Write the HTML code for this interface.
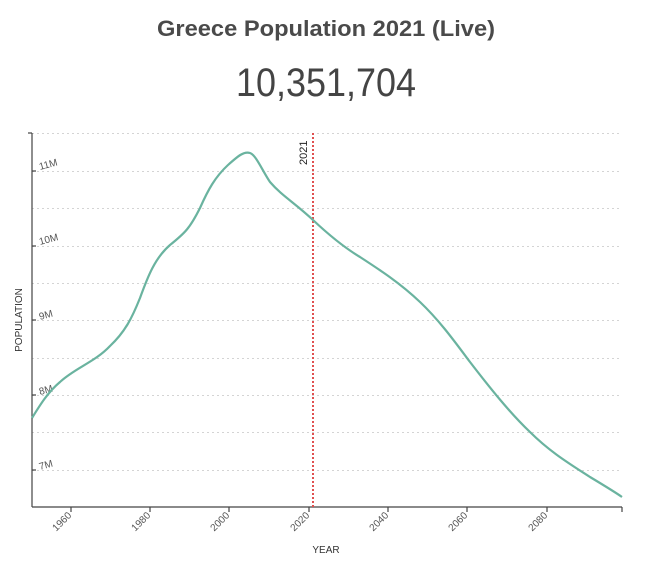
<!DOCTYPE html>
<html><head><meta charset="utf-8"><style>
body{margin:0;background:#fff;width:655px;height:568px;overflow:hidden;font-family:"Liberation Sans",sans-serif}
</style></head><body>
<svg width="655" height="568" xmlns="http://www.w3.org/2000/svg" font-family="Liberation Sans, sans-serif">
<text x="326" y="36" text-anchor="middle" font-size="22" font-weight="bold" fill="#4a4a4a" textLength="338" lengthAdjust="spacingAndGlyphs">Greece Population 2021 (Live)</text>
<text x="326" y="96" text-anchor="middle" font-size="40" fill="#444" textLength="180" lengthAdjust="spacingAndGlyphs">10,351,704</text>
<g stroke="#d4d4d4" stroke-dasharray="2,3" stroke-width="1">
<line x1="32" x2="622" y1="133.5" y2="133.5"/>
<line x1="32" x2="622" y1="171.5" y2="171.5"/>
<line x1="32" x2="622" y1="208.5" y2="208.5"/>
<line x1="32" x2="622" y1="246.5" y2="246.5"/>
<line x1="32" x2="622" y1="283.5" y2="283.5"/>
<line x1="32" x2="622" y1="320.5" y2="320.5"/>
<line x1="32" x2="622" y1="358.5" y2="358.5"/>
<line x1="32" x2="622" y1="395.5" y2="395.5"/>
<line x1="32" x2="622" y1="432.5" y2="432.5"/>
<line x1="32" x2="622" y1="470.5" y2="470.5"/>
</g>
<g stroke="#444" stroke-width="1.2" fill="none">
<line x1="32" y1="133" x2="32" y2="507"/>
<line x1="32" y1="507" x2="622" y2="507"/>
<line x1="28" y1="133" x2="32" y2="133"/>
<line x1="32" y1="171" x2="36" y2="171"/><line x1="32" y1="246" x2="36" y2="246"/><line x1="32" y1="320" x2="36" y2="320"/><line x1="32" y1="395" x2="36" y2="395"/><line x1="32" y1="470" x2="36" y2="470"/>
<line x1="71" y1="507" x2="71" y2="512"/><line x1="150" y1="507" x2="150" y2="512"/><line x1="229" y1="507" x2="229" y2="512"/><line x1="309" y1="507" x2="309" y2="512"/><line x1="388" y1="507" x2="388" y2="512"/><line x1="467" y1="507" x2="467" y2="512"/><line x1="547" y1="507" x2="547" y2="512"/><line x1="622" y1="507" x2="622" y2="512"/>
</g>
<g font-size="10" fill="#555">
<text transform="translate(40,170) rotate(-15)">11M</text>
<text transform="translate(40,245) rotate(-15)">10M</text>
<text transform="translate(40,320) rotate(-15)">9M</text>
<text transform="translate(40,395) rotate(-15)">8M</text>
<text transform="translate(40,470) rotate(-15)">7M</text>
<text transform="translate(72,516) rotate(-45)" text-anchor="end">1960</text>
<text transform="translate(151,516) rotate(-45)" text-anchor="end">1980</text>
<text transform="translate(230,516) rotate(-45)" text-anchor="end">2000</text>
<text transform="translate(310,516) rotate(-45)" text-anchor="end">2020</text>
<text transform="translate(389,516) rotate(-45)" text-anchor="end">2040</text>
<text transform="translate(468,516) rotate(-45)" text-anchor="end">2060</text>
<text transform="translate(548,516) rotate(-45)" text-anchor="end">2080</text>
</g>
<text x="326" y="553" text-anchor="middle" font-size="10" fill="#333">YEAR</text>
<text transform="translate(22,320) rotate(-90)" text-anchor="middle" font-size="10" fill="#333">POPULATION</text>
<line x1="313" y1="133" x2="313" y2="507" stroke="#e05050" stroke-width="2" stroke-dasharray="2,2"/>
<text transform="translate(307,165) rotate(-90)" font-size="11" fill="#222">2021</text>
<path fill="none" stroke="#6ab39f" stroke-width="2.2" d="M32,418 C40,405 48,392 60,382 C75,368 95,362 110,346 C125,332 132,318 140,298 C148,276 155,258 170,245 C185,233 190,228 200,208 C208,190 215,177 228,165 C238,156 244,151 250,153 C256,155 262,170 270,182 C282,196 295,203 313,220 C330,236 345,248 360,257 C380,270 400,283 420,302 C440,321 455,342 470,362 C490,388 510,413 530,432 C550,452 570,464 590,477 C605,486 615,492 622,497"/>
</svg>
</body></html>
